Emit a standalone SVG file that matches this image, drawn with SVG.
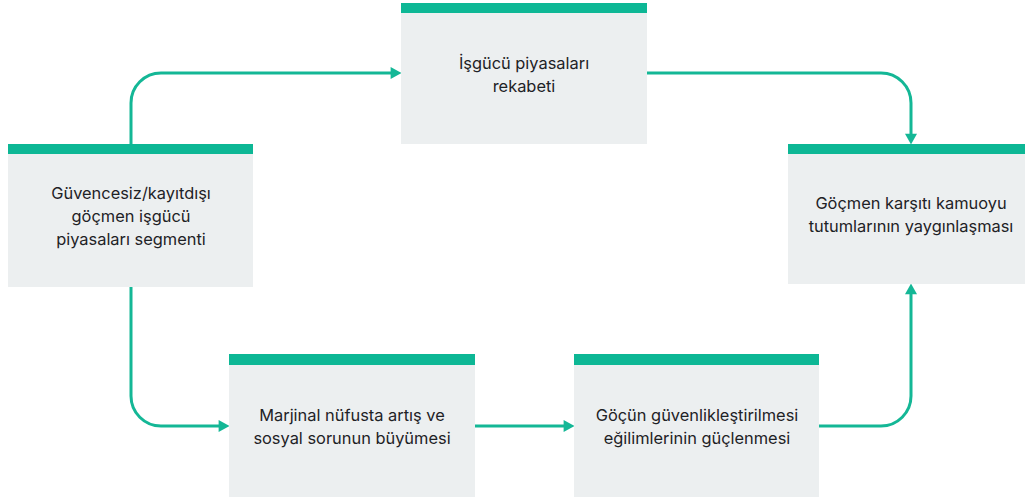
<svg xmlns="http://www.w3.org/2000/svg" width="1025" height="502" viewBox="0 0 1025 502">
<defs>
<style>
.box{fill:#eceff0}
.bar{fill:#0db795}
.lbl{font-family:Inter,"Noto Sans","Liberation Sans",sans-serif;font-size:16.4px;fill:#1e2226;text-anchor:middle}
.edge{fill:none;stroke:#14b796;stroke-width:3}
</style>
<marker id="ah" markerUnits="userSpaceOnUse" markerWidth="12" markerHeight="12" viewBox="0 0 10 11" refX="4" refY="5.5" orient="auto">
<path d="M0,0 L10,5.5 L0,11 z" fill="#14b796"/>
</marker>
</defs>
<g id="connectors">
<path class="edge" d="M131,144 V103 A30,30 0 0 1 161,73 H395" marker-end="url(#ah)"/>
<path class="edge" d="M647,73 H881 A30,30 0 0 1 911,103 V138" marker-end="url(#ah)"/>
<path class="edge" d="M131,287 V396 A30,30 0 0 0 161,426 H223" marker-end="url(#ah)"/>
<path class="edge" d="M475,426 H568" marker-end="url(#ah)"/>
<path class="edge" d="M819,426 H881 A30,30 0 0 0 911,396 V290" marker-end="url(#ah)"/>
</g>
<g id="node-guvencesiz">
<rect class="box" x="8" y="144" width="245" height="143"/>
<rect class="bar" x="8" y="144" width="245" height="10"/>
<text class="lbl" x="131" y="199">Güvencesiz/kayıtdışı</text>
<text class="lbl" x="131" y="222">göçmen işgücü</text>
<text class="lbl" x="131" y="245">piyasaları segmenti</text>
</g>
<g id="node-isgucu">
<rect class="box" x="401" y="3" width="246" height="141"/>
<rect class="bar" x="401" y="3" width="246" height="10"/>
<text class="lbl" x="524" y="69">İşgücü piyasaları</text>
<text class="lbl" x="524" y="92">rekabeti</text>
</g>
<g id="node-karsiti">
<rect class="box" x="788" y="144" width="246" height="140"/>
<rect class="bar" x="788" y="144" width="246" height="10"/>
<text class="lbl" x="911" y="209">Göçmen karşıtı kamuoyu</text>
<text class="lbl" x="911" y="232">tutumlarının yaygınlaşması</text>
</g>
<g id="node-marjinal">
<rect class="box" x="229" y="354" width="246" height="143"/>
<rect class="bar" x="229" y="354" width="246" height="11"/>
<text class="lbl" x="352" y="421">Marjinal nüfusta artış ve</text>
<text class="lbl" x="352" y="444">sosyal sorunun büyümesi</text>
</g>
<g id="node-guvenlik">
<rect class="box" x="574" y="354" width="245" height="143"/>
<rect class="bar" x="574" y="354" width="245" height="11"/>
<text class="lbl" x="697" y="421">Göçün güvenlikleştirilmesi</text>
<text class="lbl" x="697" y="444">eğilimlerinin güçlenmesi</text>
</g>
</svg>
